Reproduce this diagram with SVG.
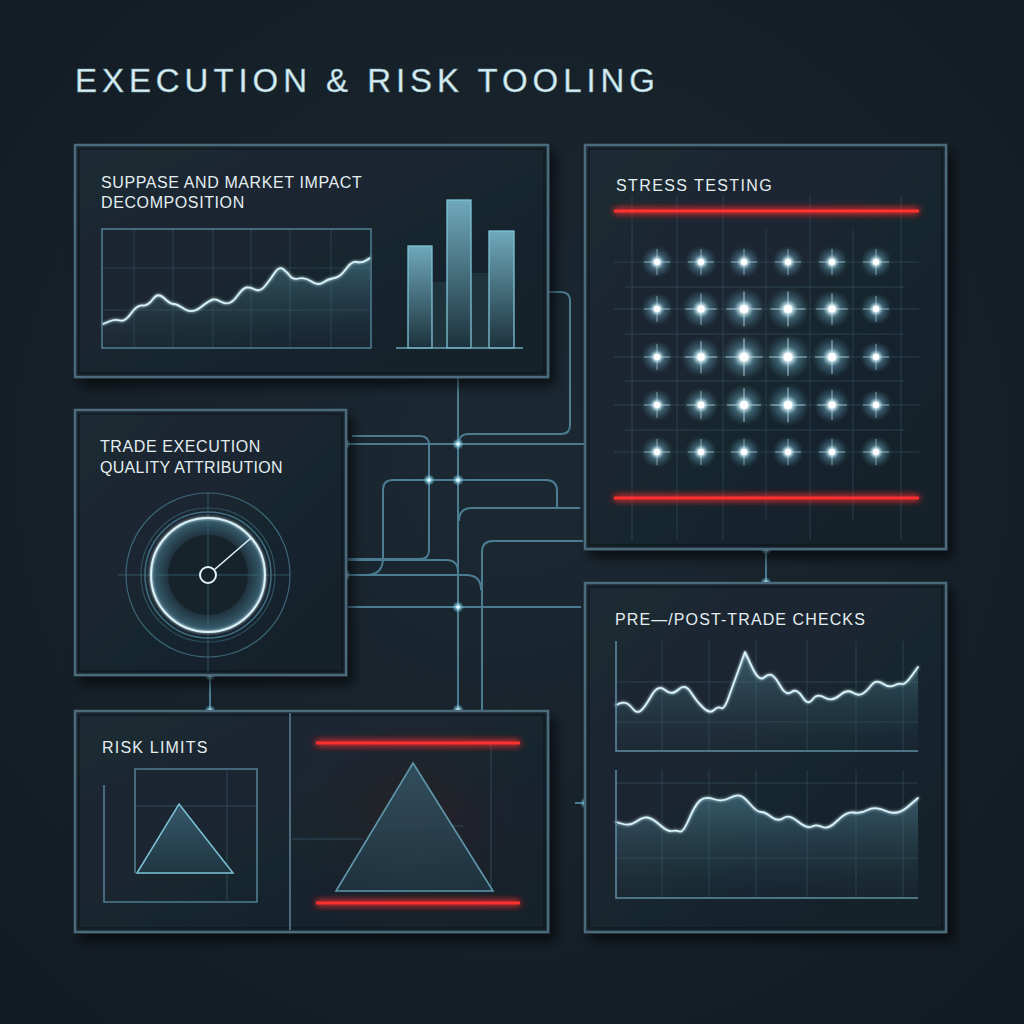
<svg xmlns="http://www.w3.org/2000/svg" width="1024" height="1024" viewBox="0 0 1024 1024">
<defs>
  <radialGradient id="bg" cx="0.5" cy="0.45" r="0.75">
    <stop offset="0" stop-color="#1c2933"/>
    <stop offset="1" stop-color="#121a21"/>
  </radialGradient>
  <linearGradient id="panelFill" x1="0" y1="0" x2="1" y2="1">
    <stop offset="0" stop-color="#1d2a34"/>
    <stop offset="1" stop-color="#16212a"/>
  </linearGradient>
  <linearGradient id="areaFill" x1="0" y1="0" x2="0" y2="1">
    <stop offset="0" stop-color="#5f9db3" stop-opacity="0.45"/>
    <stop offset="1" stop-color="#2a4a58" stop-opacity="0.08"/>
  </linearGradient>
  <linearGradient id="barFill" x1="0" y1="0" x2="0" y2="1">
    <stop offset="0" stop-color="#6fa9bb"/>
    <stop offset="1" stop-color="#1c313c"/>
  </linearGradient>
  <linearGradient id="triFill" x1="0" y1="0" x2="0" y2="1">
    <stop offset="0" stop-color="#36586a"/>
    <stop offset="1" stop-color="#203642"/>
  </linearGradient>
  <radialGradient id="redGlow" cx="0.5" cy="0.5" r="0.6">
    <stop offset="0" stop-color="#3a1f24" stop-opacity="0.55"/>
    <stop offset="1" stop-color="#1a232b" stop-opacity="0"/>
  </radialGradient>
  <radialGradient id="gaugeGlow" cx="0.5" cy="0.5" r="0.5">
    <stop offset="0.65" stop-color="#1b2b35"/>
    <stop offset="1" stop-color="#3a6274"/>
  </radialGradient>
  <radialGradient id="starGlow" cx="0.5" cy="0.5" r="0.5">
    <stop offset="0" stop-color="#ffffff" stop-opacity="1"/>
    <stop offset="0.18" stop-color="#e4f7fd" stop-opacity="0.95"/>
    <stop offset="0.45" stop-color="#7cc0d8" stop-opacity="0.4"/>
    <stop offset="1" stop-color="#4b8aa3" stop-opacity="0"/>
  </radialGradient>
  <radialGradient id="dotGlow" cx="0.5" cy="0.5" r="0.5">
    <stop offset="0" stop-color="#ffffff"/>
    <stop offset="0.35" stop-color="#9fe3f7" stop-opacity="0.8"/>
    <stop offset="1" stop-color="#5fb8d6" stop-opacity="0"/>
  </radialGradient>
  <filter id="shadow" x="-10%" y="-10%" width="130%" height="130%">
    <feGaussianBlur in="SourceAlpha" stdDeviation="6"/>
    <feOffset dx="6" dy="8"/>
    <feComponentTransfer><feFuncA type="linear" slope="0.6"/></feComponentTransfer>
    <feMerge><feMergeNode/><feMergeNode in="SourceGraphic"/></feMerge>
  </filter>
  <filter id="redBlur" filterUnits="userSpaceOnUse" x="0" y="0" width="1024" height="1024">
    <feGaussianBlur in="SourceGraphic" stdDeviation="3.5"/>
    <feMerge><feMergeNode/><feMergeNode/><feMergeNode in="SourceGraphic"/></feMerge>
  </filter>
  <filter id="soft" filterUnits="userSpaceOnUse" x="0" y="0" width="1024" height="1024">
    <feGaussianBlur in="SourceGraphic" stdDeviation="1.5"/>
    <feMerge><feMergeNode/><feMergeNode in="SourceGraphic"/></feMerge>
  </filter>
  <g id="star">
    <circle r="16" fill="url(#starGlow)"/>
    <path d="M-13,0H13M0,-13V13" stroke="#cdeef8" stroke-width="0.8" stroke-opacity="0.7"/>
    <circle r="3" fill="#ffffff"/>
  </g>
  <g id="dot">
    <circle r="6" fill="url(#dotGlow)"/>
    <circle r="1.6" fill="#e8fbff"/>
  </g>
  <style>
    .frame{fill:url(#panelFill);stroke:#4b6a7b;stroke-width:2.5}
    .inner{fill:none;stroke:#0e161c;stroke-width:1.2}
    .label{font-family:"Liberation Sans","DejaVu Sans",Arial,sans-serif;font-size:16px;fill:#e4eef1;letter-spacing:0.6px}
    .title{font-family:"Liberation Sans","DejaVu Sans",Arial,sans-serif;font-size:33px;fill:#d9eef3;stroke:#7fa9b6;stroke-width:0.5}
    .grid{stroke:#3c5c6a;stroke-width:0.8;fill:none;opacity:0.6}
    .axis{stroke:#5d8ea2;stroke-width:1.5;fill:none}
    .data{stroke:#d6f3fb;stroke-width:1.8;fill:none;stroke-linejoin:round;stroke-linecap:round}
    .red{fill:#ff3030;filter:url(#redBlur)}
    .conn{stroke:#4b7d92;stroke-width:2;fill:none}
    .faint{stroke:#36586a;stroke-width:1;fill:none;opacity:0.7}
  </style>
</defs>

<rect width="1024" height="1024" fill="url(#bg)"/>

<text class="title" x="75" y="92" textLength="580" lengthAdjust="spacing">EXECUTION &amp; RISK TOOLING</text>

<!-- connectors -->
<g id="connectors">
  <path class="conn" d="M458,354 V711"/>
  <path class="conn" d="M539,292 H561 Q570,292 570,301 V425 Q570,434 561,434 H468 Q459,434 459,443"/>
  <path class="conn" d="M347,444 H593"/>
  <path class="conn" d="M352,436 H420 Q429,436 429,445 V550 Q429,559 420,559 H348"/>
  <path class="conn" d="M348,560 H446 Q458,560 458,572"/>
  <path class="conn" d="M347,575 H366 Q383,575 383,558 V490 Q383,480 393,480 H546 Q557,480 557,491 V508"/>
  <path class="conn" d="M580,508 H472 Q459,508 459,521"/>
  <path class="conn" d="M583,541 H493 Q482,541 482,552 V711"/>
  <path class="conn" d="M347,575 H466 Q481,575 481,590"/>
  <path class="conn" d="M348,607 H581"/>
  <path class="conn" d="M210,675 V711"/>
  <path class="conn" d="M766,549 V583"/>
  <path class="conn" d="M575,803 H595"/>
  <use href="#dot" x="539" y="292"/>
  <use href="#dot" x="458" y="354"/>
  <use href="#dot" x="345" y="444"/>
  <use href="#dot" x="590" y="444"/>
  <use href="#dot" x="458" y="444"/>
  <use href="#dot" x="458" y="480"/>
  <use href="#dot" x="429" y="480"/>
  <use href="#dot" x="345" y="575"/>
  <use href="#dot" x="458" y="607"/>
  <use href="#dot" x="458" y="710"/>
  <use href="#dot" x="210" y="675"/>
  <use href="#dot" x="210" y="711"/>
  <use href="#dot" x="766" y="549"/>
  <use href="#dot" x="766" y="583"/>
  <use href="#dot" x="586" y="803"/>
  <use href="#dot" x="290" y="838"/>
</g>

<!-- Panel 1: Slippage and market impact decomposition -->
<g id="node-market-impact">
  <rect class="frame" x="75" y="145" width="473" height="232" filter="url(#shadow)"/>
  <rect class="inner" x="79" y="149" width="465" height="224"/>
  <text class="label" x="101" y="188">SUPPASE AND MARKET IMPACT</text>
  <text class="label" x="101" y="208">DECOMPOSITION</text>
  <g>
    <path class="grid" d="M134,229V348M173,229V348M213,229V348M251,229V348M290,229V348M331,229V348M102,268H371M102,310H371"/>
    <path fill="url(#areaFill)" d="M103,324 L109,321.5 Q115,319 120,320.5 Q125,322 131,313.5 Q137,305 142.5,305.5 Q148,306 153,299 Q158,292 164,298 Q170,304 173.5,304 Q177,304 184.5,309 Q192,314 201,307 Q210,300 213,299.5 Q216,299 220.5,301.5 Q225,304 229,303 Q233,302 238,295 Q243,288 246.5,287.5 Q250,287 255,289.5 Q260,292 265,286 Q270,280 274.5,273 Q279,266 283,269 Q287,272 290,276 Q293,280 299,278.5 Q305,277 311.5,281.5 Q318,286 323,282.5 Q328,279 332.5,278.5 Q337,278 340,275.5 Q343,273 347.5,267 Q352,261 357,262 Q362,263 366,260.5 L370,258 L370,348 L103,348 Z"/>
    <path class="data" filter="url(#soft)" d="M103,324 L109,321.5 Q115,319 120,320.5 Q125,322 131,313.5 Q137,305 142.5,305.5 Q148,306 153,299 Q158,292 164,298 Q170,304 173.5,304 Q177,304 184.5,309 Q192,314 201,307 Q210,300 213,299.5 Q216,299 220.5,301.5 Q225,304 229,303 Q233,302 238,295 Q243,288 246.5,287.5 Q250,287 255,289.5 Q260,292 265,286 Q270,280 274.5,273 Q279,266 283,269 Q287,272 290,276 Q293,280 299,278.5 Q305,277 311.5,281.5 Q318,286 323,282.5 Q328,279 332.5,278.5 Q337,278 340,275.5 Q343,273 347.5,267 Q352,261 357,262 Q362,263 366,260.5 L370,258"/>
    <rect x="102" y="229" width="269" height="119" fill="none" stroke="#5a8ea3" stroke-width="1.3"/>
  </g>
  <g>
    <rect x="432" y="282" width="15" height="66" fill="#1f333d"/>
    <rect x="471" y="273" width="18" height="75" fill="#1f333d"/>
    <rect x="408" y="246" width="24" height="102" fill="url(#barFill)" stroke="#7ec3d6" stroke-width="1.3"/>
    <rect x="447" y="200" width="24" height="148" fill="url(#barFill)" stroke="#7ec3d6" stroke-width="1.3"/>
    <rect x="489" y="231" width="25" height="117" fill="url(#barFill)" stroke="#7ec3d6" stroke-width="1.3"/>
    <path d="M396,348 H523" stroke="#6da4b8" stroke-width="1.5"/>
  </g>
</g>

<!-- Panel 2: Stress testing -->
<g id="node-stress-testing">
  <rect class="frame" x="585" y="145" width="361" height="404" filter="url(#shadow)"/>
  <rect class="inner" x="589" y="149" width="353" height="396"/>
  <text class="label" x="616" y="191" style="letter-spacing:1.4px">STRESS TESTING</text>
  <path class="grid" d="M632,195V540M677,195V540M723,195V540M766,230V520M810,195V540M853,230V520M901,195V540M614,262H919M625,287H905M614,309H919M625,334H905M614,357H919M625,381H905M614,405H919M625,430H905M614,452H919"/>
  <g>
    <use href="#star" x="657" y="262"/><use href="#star" x="701" y="262"/><use href="#star" x="744" y="262"/><use href="#star" x="788" y="262"/><use href="#star" x="832" y="262"/><use href="#star" x="876" y="262"/>
    <use href="#star" x="657" y="309"/><use href="#star" transform="translate(701,309) scale(1.2)"/><use href="#star" transform="translate(744,309) scale(1.35)"/><use href="#star" transform="translate(788,309) scale(1.35)"/><use href="#star" transform="translate(832,309) scale(1.2)"/><use href="#star" x="876" y="309"/>
    <use href="#star" x="657" y="357"/><use href="#star" transform="translate(701,357) scale(1.25)"/><use href="#star" transform="translate(744,357) scale(1.45)"/><use href="#star" transform="translate(788,357) scale(1.45)"/><use href="#star" transform="translate(832,357) scale(1.3)"/><use href="#star" x="876" y="357"/>
    <use href="#star" x="657" y="405"/><use href="#star" transform="translate(701,405) scale(1.1)"/><use href="#star" transform="translate(744,405) scale(1.3)"/><use href="#star" transform="translate(788,405) scale(1.35)"/><use href="#star" transform="translate(832,405) scale(1.15)"/><use href="#star" x="876" y="405"/>
    <use href="#star" x="657" y="452"/><use href="#star" x="701" y="452"/><use href="#star" x="744" y="452"/><use href="#star" x="788" y="452"/><use href="#star" x="832" y="452"/><use href="#star" x="876" y="452"/>
  </g>
  <rect class="red" x="614" y="209.5" width="305" height="3"/>
  <rect class="red" x="614" y="496.5" width="305" height="3"/>
</g>

<!-- Panel 3: Trade execution quality attribution -->
<g id="node-trade-execution">
  <rect class="frame" x="75" y="410" width="271" height="265" filter="url(#shadow)"/>
  <rect class="inner" x="79" y="414" width="263" height="257"/>
  <text class="label" x="100" y="452">TRADE EXECUTION</text>
  <text class="label" x="100" y="473" style="letter-spacing:0.3px">QUALITY ATTRIBUTION</text>
  <g>
    <circle cx="208" cy="575" r="82" fill="none" stroke="#3c6678" stroke-width="1.2"/>
    <circle cx="208" cy="575" r="67" fill="none" stroke="#2f5262" stroke-width="1.2"/>
    <circle cx="208" cy="575" r="63" fill="none" stroke="#3f6d80" stroke-width="1.6"/>
    <circle cx="208" cy="575" r="57" fill="url(#gaugeGlow)"/>
    <circle cx="208" cy="575" r="40" fill="#16232b"/>
    <path d="M118,575H290M208,492V672" stroke="#3d6a7d" stroke-width="1" opacity="0.7"/>
    <circle cx="208" cy="575" r="57" fill="none" stroke="#d9f1f7" stroke-width="2" filter="url(#soft)"/>
    <line x1="214" y1="570" x2="251" y2="538" stroke="#d9f1f7" stroke-width="1.6"/>
    <circle cx="208" cy="575" r="8" fill="#16232b" stroke="#e2f5f9" stroke-width="2"/>
  </g>
</g>

<!-- Panel 4: Risk limits -->
<g id="node-risk-limits">
  <rect class="frame" x="75" y="711" width="473" height="221" filter="url(#shadow)"/>
  <rect class="inner" x="79" y="715" width="465" height="213"/>
  <rect x="291" y="715" width="253" height="213" fill="url(#redGlow)"/>
  <line x1="290" y1="713" x2="290" y2="930" stroke="#4b6a7b" stroke-width="2"/>
  <text class="label" x="102" y="753" style="letter-spacing:1.2px">RISK LIMITS</text>
  <path class="faint" d="M136,806H256M227,770V900"/>
  <path d="M135,873 V769 H257 V902 H104 V785" fill="none" stroke="#4f7e92" stroke-width="1.6"/>
  <polygon points="179,804 233,873 137,873" fill="url(#triFill)" stroke="#7cc2d6" stroke-width="1.5"/>
  <path class="faint" d="M292,839H363M377,826H463M491,745V890"/>
  <polygon points="413,763 493,891 336,891" fill="url(#triFill)" fill-opacity="0.8" stroke="#5f97ab" stroke-width="1.6"/>
  <rect class="red" x="316" y="741.5" width="204" height="3"/>
  <rect class="red" x="316" y="901.5" width="204" height="3"/>
</g>

<!-- Panel 5: Pre/post-trade checks -->
<g id="node-pre-post-trade">
  <rect class="frame" x="585" y="583" width="361" height="349" filter="url(#shadow)"/>
  <rect class="inner" x="589" y="587" width="353" height="341"/>
  <text class="label" x="615" y="625" style="letter-spacing:1.1px">PRE—/POST-TRADE CHECKS</text>
  <path class="grid" d="M662,641V751M709,641V751M756,641V751M807,641V751M856,641V751M903,641V751M616,682H918M616,722H918"/>
  <path fill="url(#areaFill)" d="M616,705 L619.5,703.5 Q623,702 626,703 Q629,704 633,709 Q637,714 641,710.5 Q645,707 651.5,695.5 Q658,684 665,690 Q672,696 678.5,689.5 Q685,683 691,692.5 Q697,702 703.5,708 Q710,714 714,710 Q718,706 721,708 Q724,710 728,699 L745,652 L752,667 Q759,682 764,677.5 Q769,673 772.5,675.5 Q776,678 781,687 Q786,696 791.5,692 Q797,688 802.5,697 Q808,706 812.5,699.5 Q817,693 824.5,697.5 Q832,702 839.5,695.5 Q847,689 852.5,692.5 Q858,696 862,694 Q866,692 871,685.5 Q876,679 882.5,683.5 Q889,688 894,685.5 Q899,683 902,684 Q905,685 911.5,676 L918,667 L918,751 L616,751 Z"/>
  <path class="data" filter="url(#soft)" d="M616,705 L619.5,703.5 Q623,702 626,703 Q629,704 633,709 Q637,714 641,710.5 Q645,707 651.5,695.5 Q658,684 665,690 Q672,696 678.5,689.5 Q685,683 691,692.5 Q697,702 703.5,708 Q710,714 714,710 Q718,706 721,708 Q724,710 728,699 L745,652 L752,667 Q759,682 764,677.5 Q769,673 772.5,675.5 Q776,678 781,687 Q786,696 791.5,692 Q797,688 802.5,697 Q808,706 812.5,699.5 Q817,693 824.5,697.5 Q832,702 839.5,695.5 Q847,689 852.5,692.5 Q858,696 862,694 Q866,692 871,685.5 Q876,679 882.5,683.5 Q889,688 894,685.5 Q899,683 902,684 Q905,685 911.5,676 L918,667"/>
  <path class="axis" d="M616,641 V751 H918"/>
  <path class="grid" d="M662,770V898M709,770V898M756,770V898M807,770V898M856,770V898M903,770V898M616,783H918M616,858H918"/>
  <path fill="url(#areaFill)" d="M616,822 L623,824 Q630,826 636.5,821.5 Q643,817 647.5,817.5 Q652,818 660,825 Q668,832 672,831 Q676,830 679.5,831.5 Q683,833 689,819 Q695,805 700,800.5 Q705,796 713.5,799 Q722,802 729.5,798 Q737,794 741,796 Q745,798 751,805 Q757,812 761,812 Q765,812 771.5,817 Q778,822 783.5,818 Q789,814 798,821.5 Q807,829 812,826.5 Q817,824 822.5,827 Q828,830 837.5,820.5 Q847,811 853.5,812.5 Q860,814 867.5,810 Q875,806 886,811 Q897,816 907.5,807 L918,798 L918,898 L616,898 Z"/>
  <path class="data" filter="url(#soft)" d="M616,822 L623,824 Q630,826 636.5,821.5 Q643,817 647.5,817.5 Q652,818 660,825 Q668,832 672,831 Q676,830 679.5,831.5 Q683,833 689,819 Q695,805 700,800.5 Q705,796 713.5,799 Q722,802 729.5,798 Q737,794 741,796 Q745,798 751,805 Q757,812 761,812 Q765,812 771.5,817 Q778,822 783.5,818 Q789,814 798,821.5 Q807,829 812,826.5 Q817,824 822.5,827 Q828,830 837.5,820.5 Q847,811 853.5,812.5 Q860,814 867.5,810 Q875,806 886,811 Q897,816 907.5,807 L918,798"/>
  <path class="axis" d="M616,770 V898 H918"/>
</g>
</svg>
